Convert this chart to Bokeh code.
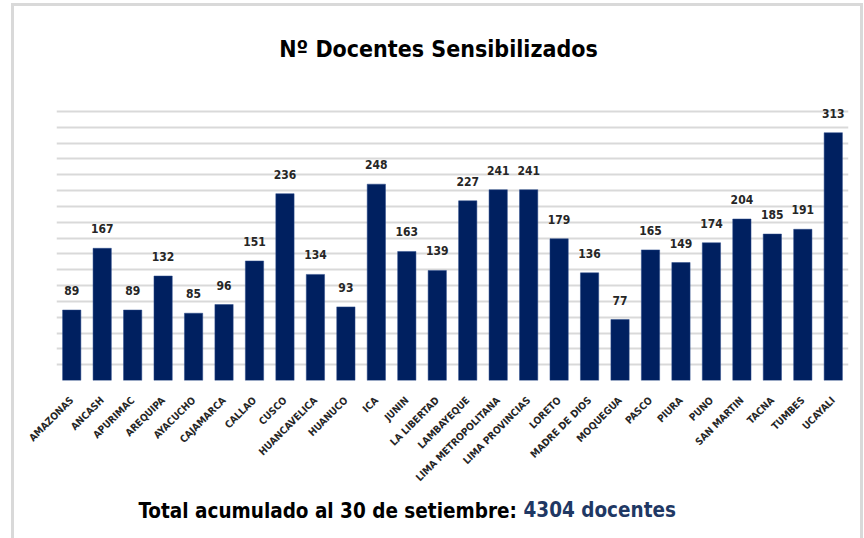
import math
from bokeh.plotting import figure
from bokeh.models import ColumnDataSource, Label, FixedTicker, InlineStyleSheet
from bokeh.core.properties import value
from bokeh.embed import file_html
from bokeh.resources import INLINE

regions = ["AMAZONAS", "ANCASH", "APURIMAC", "AREQUIPA", "AYACUCHO", "CAJAMARCA",
           "CALLAO", "CUSCO", "HUANCAVELICA", "HUANUCO", "ICA", "JUNIN",
           "LA LIBERTAD", "LAMBAYEQUE", "LIMA METROPOLITANA", "LIMA PROVINCIAS",
           "LORETO", "MADRE DE DIOS", "MOQUEGUA", "PASCO", "PIURA", "PUNO",
           "SAN MARTIN", "TACNA", "TUMBES", "UCAYALI"]
docentes = [89, 167, 89, 132, 85, 96, 151, 236, 134, 93, 248, 163, 139, 227,
            241, 241, 179, 136, 77, 165, 149, 174, 204, 185, 191, 313]
title_text = "Nº Docentes Sensibilizados"
footer_text = "Total acumulado al 30 de setiembre:"
footer_total = "4304 docentes"

FONT = "DejaVu Sans Condensed"
NAVY = "#002060"

src = ColumnDataSource(data=dict(region=regions, n=docentes,
                                 lab=[str(v) for v in docentes]))

border_css = InlineStyleSheet(css="""
:host::after {
  content: "";
  position: absolute;
  left: 11px; top: 3px; width: 846px; height: 560px;
  border: 3px solid #d9d9d9;
  pointer-events: none;
}
""")

p = figure(x_range=regions, y_range=(0, 360), width=864, height=538,
           output_backend="svg", toolbar_location=None,
           min_border_left=56, min_border_right=16, min_border_top=95,
           min_border_bottom=158, stylesheets=[border_css])
p.outline_line_color = None
p.background_fill_color = "white"
p.border_fill_color = "white"

p.vbar(x="region", top="n", width=0.6, source=src, fill_color=NAVY,
       line_color="#2a4a8a", line_width=0.5)
p.text(x="region", y="n", text="lab", source=src, y_offset=-15,
       text_align="center", text_baseline="bottom",
       text_font=value(FONT), text_font_style="bold", text_font_size="12px",
       text_color="#262626")

p.xgrid.grid_line_color = None
p.ygrid.grid_line_color = "#d9d9d9"
p.ygrid.grid_line_width = 2
p.yaxis.ticker = FixedTicker(ticks=list(range(0, 361, 20)))
p.yaxis.visible = False

xa = p.xaxis[0]
xa.axis_line_color = None
xa.major_tick_line_color = None
xa.minor_tick_line_color = None
xa.major_label_orientation = math.pi / 4
xa.major_label_text_font = FONT
xa.major_label_text_font_size = "10px"
xa.major_label_text_font_style = "bold"
xa.major_label_text_color = "#262626"
xa.major_label_standoff = 12

# labels placed in side panels (not clipped to the frame)
p.add_layout(Label(x=382, y=47, x_units="screen", y_units="screen",
                   text=title_text, text_align="center", text_baseline="middle",
                   text_font=FONT, text_font_style="bold", text_font_size="23px",
                   text_color="black"), "above")
p.add_layout(Label(x=82, y=3, x_units="screen", y_units="screen",
                   text=footer_text, text_align="left", text_baseline="middle",
                   text_font=FONT, text_font_style="bold", text_font_size="20.5px",
                   text_color="black"), "below")
p.add_layout(Label(x=467, y=28, x_units="screen", y_units="screen",
                   text=footer_total, text_align="left", text_baseline="middle",
                   text_font=FONT, text_font_style="bold", text_font_size="20.5px",
                   text_color="#1F3864"), "below")

open("out.html", "w").write(file_html(p, INLINE))
